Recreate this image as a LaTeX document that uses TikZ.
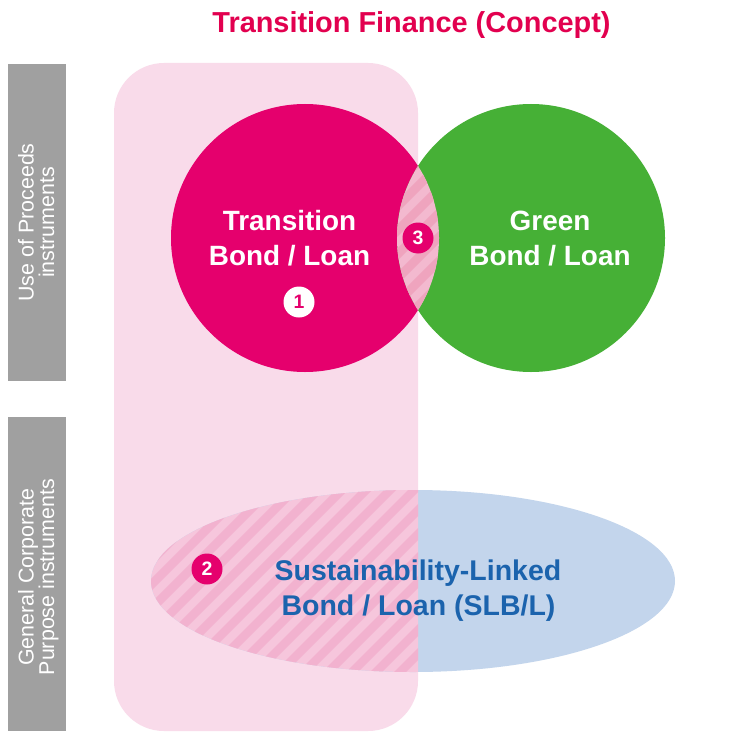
\documentclass[tikz,border=0pt]{standalone}
\usepackage{fontspec}
\setmainfont{Liberation Sans}
\definecolor{pinkbg}{HTML}{F9DBEA}
\definecolor{mag}{HTML}{E5006D}
\definecolor{grn}{HTML}{46B036}
\definecolor{ellblue}{HTML}{C3D5EC}
\definecolor{graybar}{HTML}{A0A0A0}
\definecolor{titlered}{HTML}{E2004F}
\definecolor{slbblue}{HTML}{1B63AD}
\definecolor{lenslight}{HTML}{F3B9CF}
\definecolor{lensdark}{HTML}{EFA4BE}
\definecolor{ehlight}{HTML}{F6C6DC}
\definecolor{ehdark}{HTML}{F2B2CF}
\tikzset{
  bigtext/.style={anchor=base, inner sep=0pt, font=\bfseries\fontsize{28}{34}\selectfont},
  sidetext/.style={anchor=base, inner sep=0pt, rotate=90, text=white, font=\fontsize{21.5}{22}\selectfont},
  badge/.style={circle, fill=mag, text=white, minimum size=31bp, inner sep=0pt, font=\bfseries\fontsize{19.5}{19.5}\selectfont},
  badgew/.style={badge, fill=white, text=mag},
  stripe/.style={line width=8.5bp}
}
\begin{document}
\begin{tikzpicture}[x=1bp,y=-1bp]
\useasboundingbox (0,0) rectangle (744,732);
\fill[white] (0,0) rectangle (744,732);
% gray side bars
\fill[graybar] (8,64) rectangle (66,381);
\fill[graybar] (8,417) rectangle (66,731);
% transition finance area
\fill[pinkbg, rounded corners=50bp] (114,63) rectangle (418,731);
% SLB ellipse
\fill[ellblue] (413,581) ellipse [x radius=262, y radius=91];
\begin{scope}
  \clip (413,581) ellipse [x radius=262, y radius=91];
  \clip (114,63) rectangle (418,731);
  \fill[ehlight] (100,480) rectangle (420,690);
  \foreach \k in {0,...,50} \draw[ehdark, stripe] (\k*24-300,700) -- ++(600,-600);
\end{scope}
% circles
\fill[mag] (305,238) circle [radius=134];
\fill[grn] (531,238) circle [radius=134];
\begin{scope}
  \clip (305,238) circle [radius=134];
  \clip (531,238) circle [radius=134];
  \fill[lenslight] (380,90) rectangle (460,390);
  \foreach \k in {0,...,50} \draw[lensdark, stripe] (\k*24-300,400) -- ++(600,-600);
\end{scope}
% title
\node[bigtext, text=titlered, font=\bfseries\fontsize{29}{34}\selectfont] (title) at (411.5,33) {Transition Finance (Concept)};
% circle texts
\node[bigtext, text=white] (tr1) at (289.5,230) {Transition};
\node[bigtext, text=white] (tr2) at (289.5,265) {Bond / Loan};
\node[bigtext, text=white] (gr1) at (550,230) {Green};
\node[bigtext, text=white] (gr2) at (550,265) {Bond / Loan};
\node[bigtext, text=slbblue, font=\bfseries\fontsize{28.6}{34}\selectfont] (slb1) at (418,580) {Sustainability-Linked};
\node[bigtext, text=slbblue, font=\bfseries\fontsize{28.6}{34}\selectfont] (slb2) at (418.5,615) {Bond / Loan (SLB/L)};
% side labels
\node[sidetext] (up1) at (33.5,222.5) {Use of Proceeds};
\node[sidetext] (up2) at (54,222.5) {instruments};
\node[sidetext] (gc1) at (33.5,577) {General Corporate};
\node[sidetext] (gc2) at (54,577) {Purpose instruments};
% badges
\node[badgew] (b1) at (299,302) {1};
\node[badge] (b2) at (207,569) {2};
\node[badge] (b3) at (418,238) {3};
\end{tikzpicture}
\end{document}
